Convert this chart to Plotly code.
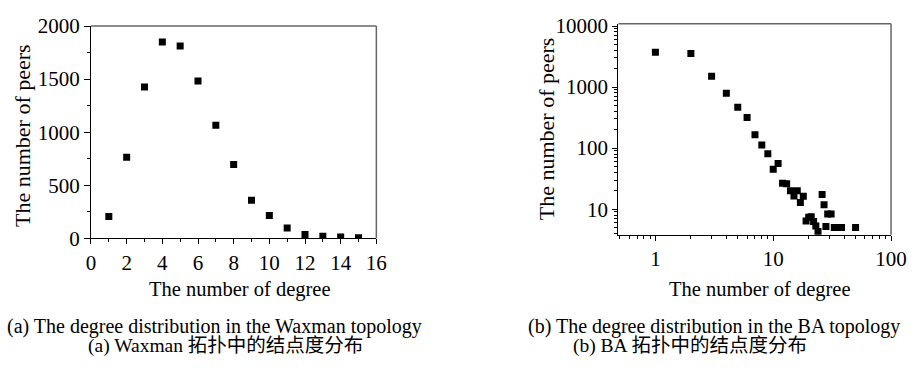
import plotly.graph_objects as go

# Waxman topology degree distribution
wax_degree = [1, 2, 3, 4, 5, 6, 7, 8, 9, 10, 11, 12, 13, 14, 15]
wax_peers = [205, 764, 1425, 1850, 1812, 1483, 1066, 696, 358, 214, 97, 35, 18, 12, 5]

# BA topology degree distribution
ba_degree = [1, 2, 3, 4, 5, 6, 7, 8, 9, 10, 11, 12, 13, 14, 15, 16, 17, 18,
             19, 20, 21, 22, 23, 24, 26, 27, 28, 29, 31, 33, 35, 38, 50]
ba_peers = [3700, 3560, 1500, 795, 465, 316, 165, 112, 81, 45, 56, 26.5, 26, 20, 16.5, 20, 12.9, 16.3,
            6.4, 7.4, 7.5, 6.3, 5.3, 4.3, 17.3, 11.8, 5.2, 8.3, 8.3, 5, 5, 5, 5]

wax_xticks = [0, 2, 4, 6, 8, 10, 12, 14, 16]
wax_yticks = [0, 500, 1000, 1500, 2000]
ba_xticks = [1, 10, 100]
ba_xticklabels = ["1", "10", "100"]
ba_yticks = [10, 100, 1000, 10000]
ba_yticklabels = ["10", "100", "1000", "10000"]

ba_minor_x = [m * 10 ** d for d in (-1, 0, 1) for m in range(2, 10)]
ba_minor_y = [m * 10 ** d for d in (0, 1, 2, 3) for m in range(2, 10)]

FONT = "Liberation Serif, Times New Roman, serif"
CJK = "Liberation Serif, Noto Sans CJK SC, serif"
TICK = 21

fig = go.Figure()
fig.add_trace(go.Scatter(x=wax_degree, y=wax_peers, mode="markers",
                         marker=dict(symbol="square", size=7, color="black"),
                         xaxis="x", yaxis="y", showlegend=False))
fig.add_trace(go.Scatter(x=ba_degree, y=ba_peers, mode="markers",
                         marker=dict(symbol="square", size=7, color="black"),
                         xaxis="x2", yaxis="y2", showlegend=False))

W, H = 922, 369
lx0, lx1, ly0, ly1 = 88 / W, 380 / W, 1 - 242 / H, 1 - 15 / H
rx0, rx1, ry0, ry1 = 627.7 / W, 906.7 / W, 1 - 238.3 / H, 1 - 12.7 / H

ax_common = dict(showgrid=False, zeroline=False, showline=True, linecolor="black",
                 linewidth=1.2, ticks="outside", tickcolor="black",
                 tickfont=dict(family=FONT, size=TICK, color="black"))

fig.update_layout(
    width=W, height=H, margin=dict(l=0, r=0, t=0, b=0),
    paper_bgcolor="white", plot_bgcolor="white",
    font=dict(family=FONT, color="black"),
    xaxis=dict(domain=[lx0, lx1], anchor="y", range=[0, 16], tickvals=wax_xticks,
               ticklen=5, minor=dict(ticks="outside", ticklen=3, dtick=1, tickcolor="black"),
               **ax_common),
    yaxis=dict(domain=[ly0, ly1], anchor="x", range=[0, 2000], tickvals=wax_yticks,
               ticklen=6, minor=dict(ticks="outside", ticklen=3, dtick=250, tickcolor="black"),
               **ax_common),
    xaxis2=dict(domain=[rx0, rx1], anchor="y2", type="log", range=[-0.314, 2.0],
                tickvals=ba_xticks, ticktext=ba_xticklabels, ticklen=5,
                minor=dict(ticks="outside", ticklen=3, tickcolor="black", tickvals=ba_minor_x),
                **ax_common),
    yaxis2=dict(domain=[ry0, ry1], anchor="x2", type="log", range=[0.58, 4.035],
                tickvals=ba_yticks, ticktext=ba_yticklabels, ticklen=5,
                minor=dict(ticks="outside", ticklen=3, tickcolor="black", tickvals=ba_minor_y),
                **ax_common),
)

# grey top/right frame lines
for (x0, x1, y0, y1) in [(lx0, lx1, ly0, ly1), (rx0, rx1, ry0, ry1)]:
    fig.add_shape(type="line", xref="paper", yref="paper", x0=x0, x1=x1, y0=y1, y1=y1,
                  line=dict(color="#666666", width=1.5))
    fig.add_shape(type="line", xref="paper", yref="paper", x0=x1, x1=x1, y0=y0, y1=y1,
                  line=dict(color="#666666", width=1.5))

def txt(x, y, s, angle=0, size=20, fam=FONT, xanchor="center"):
    fig.add_annotation(x=x / W, y=1 - y / H, xref="paper", yref="paper", text=s,
                       showarrow=False, textangle=angle, xanchor=xanchor, yanchor="middle",
                       borderpad=0, font=dict(family=fam, size=size, color="black"))

txt(18, 132, "The number of peers", angle=-90, size=22)
txt(554, 125, "The number of peers", angle=-90, size=22)
txt(240, 297, "The number of degree", size=20.5)
txt(773, 297, "The number of degree", size=20.5)
txt(1, 336, "(a) The degree distribution in the Waxman topology", size=20, xanchor="left")
txt(226, 357, "(a) Waxman 拓扑中的结点度分布", fam=CJK, size=19.5)
txt(726, 336, "(b) The degree distribution in the BA topology", size=20)
txt(701, 357, "(b) BA 拓扑中的结点度分布", fam=CJK, size=19.5)

fig.write_html("out.html")
